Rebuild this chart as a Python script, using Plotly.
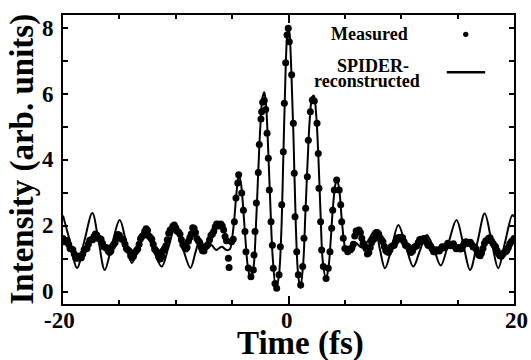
import plotly.graph_objects as go

# ---- Measured autocorrelation (dots) ----
meas_left_t = [-20.0, -19.75, -19.5, -19.25, -19.0, -18.75, -18.5, -18.25, -18.0, -17.75,
               -17.5, -17.25, -17.0, -16.75, -16.5, -16.25, -16.0, -15.75, -15.5, -15.25,
               -15.0, -14.75, -14.5, -14.25, -14.0, -13.75, -13.5, -13.25, -13.0, -12.75,
               -12.5, -12.25, -12.0, -11.75, -11.5, -11.25, -11.0, -10.75, -10.5, -10.25,
               -10.0, -9.75, -9.5, -9.25, -9.0, -8.75, -8.5, -8.25, -8.0, -7.75,
               -7.5, -7.25, -7.0, -6.75, -6.5, -6.25, -6.0, -5.75, -5.5, -5.33, -5.27]
meas_left_i = [1.62, 1.55, 1.45, 1.30, 1.15, 1.02, 1.03, 1.15, 1.30, 1.45,
               1.58, 1.68, 1.72, 1.62, 1.48, 1.35, 1.25, 1.24, 1.45, 1.65,
               1.72, 1.60, 1.45, 1.28, 1.10, 1.08, 1.25, 1.45, 1.68, 1.84,
               1.86, 1.65, 1.45, 1.25, 1.05, 1.08, 1.32, 1.58, 1.88, 2.00,
               1.95, 1.82, 1.58, 1.38, 1.35, 1.65, 1.95, 1.80, 1.55, 1.35,
               1.24, 1.40, 1.58, 1.76, 1.98, 2.05, 2.06, 1.88, 1.55, 1.02, 0.74]

# in-between samples of the left wing
meas_left2_t = [-19.875, -19.625, -19.375, -19.125, -18.875, -18.625, -18.375, -18.125,
                -17.875, -17.625, -17.375, -17.125, -16.875, -16.625, -16.375, -16.125,
                -15.875, -15.625, -15.375, -15.125, -14.875, -14.625, -14.375, -14.125,
                -13.875, -13.625, -13.375, -13.125, -12.875, -12.625, -12.375, -12.125,
                -11.875, -11.625, -11.375, -11.125, -10.875, -10.625, -10.375, -10.125,
                -9.875, -9.625, -9.375, -9.125, -8.875, -8.625, -8.375, -8.125,
                -7.875, -7.625, -7.375, -7.125, -6.875, -6.625, -6.375, -6.125,
                -5.875, -5.625]
meas_left2_i = [1.52, 1.56, 1.32, 1.28, 1.03, 1.08, 1.04, 1.28,
                1.32, 1.57, 1.58, 1.76, 1.62, 1.60, 1.37, 1.34,
                1.20, 1.38, 1.50, 1.74, 1.62, 1.57, 1.32, 1.24,
                1.04, 1.20, 1.30, 1.61, 1.72, 1.92, 1.70, 1.60,
                1.30, 1.20, 1.00, 1.25, 1.40, 1.78, 1.90, 2.03,
                1.84, 1.75, 1.44, 1.30, 1.54, 1.76, 1.93, 1.62,
                1.50, 1.25, 1.36, 1.45, 1.72, 1.84, 2.06, 2.00,
                2.00, 1.68]

meas_mid_t = [-5.05, -4.9, -4.8, -4.66, -4.5, -4.42, -4.15, -4.0, -3.86, -3.77,
              -3.56, -3.33, -3.12, -3.06, -2.97, -2.85, -2.68, -2.59, -2.44, -2.38,
              -2.29, -2.15, -2.02, -1.9, -1.79, -1.7, -1.55, -1.43, -1.35, -1.2,
              -1.05, -0.84, -0.72, -0.6, -0.46, -0.37, -0.25, -0.13, -0.02, 0.07,
              0.28, 0.43, 0.51, 0.58, 0.73, 0.87, 1.08, 1.26, 1.37, 1.52,
              1.67, 1.76, 1.94, 2.11, 2.29, 2.53, 2.64, 2.7, 2.85, 2.94,
              3.09, 3.33, 3.53, 3.68, 3.83, 3.92, 4.06, 4.27, 4.5, 4.63,
              4.72, 4.86, 5.0]
meas_mid_i = [1.52, 1.60, 2.13, 2.85, 3.30, 3.55, 3.00, 2.48, 1.83, 1.22,
              0.73, 0.46, 0.67, 1.12, 1.83, 2.70, 3.62, 4.47, 5.24, 5.46,
              5.75, 5.80, 5.53, 4.81, 4.05, 3.09, 2.13, 1.42, 0.72, 0.26,
              0.11, 0.52, 1.37, 2.64, 4.25, 5.72, 6.95, 7.79, 7.99, 7.58,
              6.58, 5.11, 3.60, 2.28, 1.22, 0.52, 0.21, 0.77, 1.63, 2.54,
              3.49, 4.60, 5.46, 5.82, 5.79, 5.11, 4.20, 3.14, 2.13, 1.27,
              0.77, 0.41, 0.72, 1.22, 1.93, 2.48, 3.09, 3.39, 3.09, 2.64,
              2.13, 1.63, 1.32]

meas_right_t = [5.25, 5.5, 5.75, 6.0, 6.25, 6.5, 6.75, 7.0, 7.25, 7.5,
                7.75, 8.0, 8.25, 8.5, 8.75, 9.0, 9.25, 9.5, 9.75, 10.0,
                10.25, 10.5, 10.75, 11.0, 11.25, 11.5, 11.75, 12.0, 12.25, 12.5,
                12.75, 13.0, 13.25, 13.5, 13.75, 14.0, 14.25, 14.5, 14.75, 15.0,
                15.25, 15.5, 15.75, 16.0, 16.25, 16.5, 16.75, 17.0, 17.25, 17.5,
                17.75, 18.0, 18.25, 18.5, 18.75, 19.0, 19.25, 19.5, 19.75, 20.0]
meas_right_i = [1.22, 1.28, 1.45, 1.85, 1.88, 1.63, 1.40, 1.15, 1.35, 1.58,
                1.74, 1.76, 1.58, 1.38, 1.22, 1.28, 1.40, 1.52, 1.65, 1.66,
                1.52, 1.40, 1.26, 1.24, 1.38, 1.50, 1.60, 1.62, 1.50, 1.40,
                1.30, 1.22, 1.25, 1.30, 1.36, 1.40, 1.45, 1.44, 1.38, 1.32,
                1.30, 1.42, 1.52, 1.50, 1.44, 1.36, 1.20, 1.10, 1.32, 1.55,
                1.63, 1.55, 1.42, 1.25, 1.10, 1.14, 1.22, 1.35, 1.52, 1.62]

# in-between samples of the right wing
meas_right2_t = [5.375, 5.625, 5.875, 6.125, 6.375, 6.625, 6.875, 7.125,
                 7.375, 7.625, 7.875, 8.125, 8.375, 8.625, 8.875, 9.125,
                 9.375, 9.625, 9.875, 10.125, 10.375, 10.625, 10.875, 11.125,
                 11.375, 11.625, 11.875, 12.125, 12.375, 12.625, 12.875, 13.125,
                 13.375, 13.625, 13.875, 14.125, 14.375, 14.625, 14.875, 15.125,
                 15.375, 15.625, 15.875, 16.125, 16.375, 16.625, 16.875, 17.125,
                 17.375, 17.625, 17.875, 18.125, 18.375, 18.625, 18.875, 19.125,
                 19.375, 19.625, 19.875]
meas_right2_i = [1.30, 1.33, 1.70, 1.82, 1.80, 1.48, 1.32, 1.20,
                 1.50, 1.62, 1.80, 1.64, 1.52, 1.26, 1.20, 1.38,
                 1.42, 1.62, 1.60, 1.64, 1.42, 1.36, 1.20, 1.35,
                 1.40, 1.58, 1.56, 1.60, 1.42, 1.38, 1.22, 1.28,
                 1.24, 1.37, 1.34, 1.48, 1.40, 1.46, 1.31, 1.35,
                 1.32, 1.50, 1.47, 1.51, 1.36, 1.31, 1.12, 1.18,
                 1.47, 1.56, 1.64, 1.48, 1.36, 1.16, 1.08, 1.20,
                 1.26, 1.46, 1.56]

# ---- SPIDER-reconstructed autocorrelation (solid line) ----
spider_t = [-20.0, -19.4, -18.75, -18.1, -17.4, -16.85, -16.3, -15.65, -14.97, -14.4,
            -13.9, -13.3, -12.7, -12.0, -11.25, -10.65, -10.06, -9.4, -8.7, -8.25,
            -7.85, -7.55, -7.25, -7.0, -6.8, -6.6, -6.4, -6.15, -5.9, -5.7,
            -5.5, -5.2, -5.0, -4.8, -4.6, -4.4, -4.2, -4.0, -3.8, -3.6,
            -3.35, -3.1, -2.9, -2.7, -2.5, -2.3, -2.15, -2.0, -1.8, -1.6,
            -1.4, -1.1, -0.85, -0.65, -0.45, -0.25, -0.1, 0.0, 0.1, 0.25,
            0.45, 0.65, 0.85, 1.05, 1.3, 1.5, 1.7, 1.9, 2.1, 2.25,
            2.45, 2.65, 2.85, 3.05, 3.33, 3.55, 3.75, 3.95, 4.15, 4.3,
            4.5, 4.7, 4.9, 5.1, 5.3, 5.9, 6.5, 7.05, 7.7, 8.1,
            8.56, 9.15, 9.74, 10.4, 11.07, 11.65, 12.26, 12.9, 13.5, 14.2,
            14.9, 15.5, 16.1, 16.75, 17.4, 18.0, 18.6, 19.2, 19.85, 20.0]
spider_i = [2.32, 1.55, 0.73, 1.55, 2.39, 1.55, 0.67, 1.45, 2.18, 1.50,
            0.88, 1.35, 1.80, 1.30, 0.77, 1.35, 1.95, 1.35, 0.73, 1.20,
            1.60, 1.42, 1.33, 1.40, 1.42, 1.33, 1.27, 1.33, 1.37, 1.32,
            1.27, 1.30, 1.62, 2.25, 3.05, 3.55, 3.25, 2.45, 1.50, 0.75,
            0.40, 0.75, 1.90, 3.50, 5.00, 5.90, 6.05, 5.70, 4.30, 2.55,
            1.05, 0.08, 0.50, 1.70, 4.20, 6.80, 7.85, 8.00, 7.80, 6.70,
            4.60, 2.00, 0.55, 0.12, 0.85, 2.40, 4.00, 5.30, 5.90, 5.95,
            5.40, 4.10, 2.30, 0.90, 0.40, 0.75, 1.60, 2.60, 3.25, 3.42,
            3.10, 2.30, 1.60, 1.25, 1.25, 1.50, 1.35, 1.55, 1.88, 1.30,
            0.72, 1.35, 2.03, 1.40, 0.77, 1.25, 1.73, 1.30, 0.80, 1.50,
            2.18, 1.45, 0.67, 1.50, 2.38, 1.55, 0.72, 1.50, 2.33, 2.28]

x_tick_vals = [-20, 0, 20]
x_tick_text = ["-20", "0", "20"]
y_tick_vals = [0, 2, 4, 6, 8]
y_tick_text = ["0", "2", "4", "6", "8"]

SERIF = "Liberation Serif"

meas_t = meas_left_t + meas_left2_t + meas_mid_t + meas_right_t + meas_right2_t
meas_i = meas_left_i + meas_left2_i + meas_mid_i + meas_right_i + meas_right2_i

fig = go.Figure()
fig.add_trace(go.Scatter(
    x=spider_t, y=spider_i, mode="lines",
    line=dict(color="black", width=2, shape="spline", smoothing=1.0),
    showlegend=False, hoverinfo="skip"))
fig.add_trace(go.Scatter(
    x=meas_t, y=meas_i, mode="markers",
    marker=dict(color="black", size=7),
    showlegend=False, hoverinfo="skip"))

axis_common = dict(
    showgrid=False, zeroline=False, showline=True, linecolor="black",
    linewidth=2, mirror="allticks", ticks="inside", tickcolor="black",
    tickwidth=1.5, showticklabels=False,
)

fig.update_xaxes(
    range=[-20, 20], tickmode="array", tickvals=x_tick_vals,
    ticklen=8,
    minor=dict(dtick=5, tick0=0, ticklen=4, ticks="inside",
               tickcolor="black", tickwidth=1.5),
    **axis_common)
fig.update_yaxes(
    range=[-0.364, 8.394], tickmode="array", tickvals=y_tick_vals,
    ticklen=5,
    minor=dict(dtick=1, tick0=0, ticklen=5, ticks="inside",
               tickcolor="black", tickwidth=1.5),
    **axis_common)

tick_font = dict(family=SERIF, size=23, color="black", weight="bold")
title_font = dict(family=SERIF, size=33, color="black", weight="bold")
legend_font = dict(family=SERIF, size=18, color="black", weight="bold")

annotations = []
# tick labels placed tight against the frame, at the axis values
x_label_shift = [-4, -2, 2]
for v, txt, sh in zip(x_tick_vals, x_tick_text, x_label_shift):
    annotations.append(dict(text=txt, x=v, xref="x", y=-0.057, yref="paper",
                            xanchor="center", yanchor="middle", xshift=sh,
                            showarrow=False, font=tick_font))
for v, txt in zip(y_tick_vals, y_tick_text):
    annotations.append(dict(text=txt, x=-0.0155, xref="paper", y=v, yref="y",
                            xanchor="right", yanchor="middle",
                            showarrow=False, font=tick_font))

annotations += [
    dict(text="Time (fs)", x=0.5255, y=-0.136, xref="paper", yref="paper",
         xanchor="center", yanchor="middle", showarrow=False, font=title_font),
    dict(text="Intensity (arb. units)", x=-0.0909, y=0.5, xref="paper", yref="paper",
         xanchor="center", yanchor="middle", textangle=-90, showarrow=False,
         font=title_font),
    dict(text="Measured", x=0.679, y=0.934, xref="paper", yref="paper",
         xanchor="center", yanchor="middle", showarrow=False, font=legend_font),
    dict(text="SPIDER-", x=0.687, y=0.824, xref="paper", yref="paper",
         xanchor="center", yanchor="middle", showarrow=False, font=legend_font),
    dict(text="reconstructed", x=0.673, y=0.771, xref="paper", yref="paper",
         xanchor="center", yanchor="middle", showarrow=False, font=legend_font),
]

shapes = [
    dict(type="circle", xref="paper", yref="paper", xsizemode="pixel",
         ysizemode="pixel", xanchor=0.893, yanchor=0.933,
         x0=-2.7, x1=2.7, y0=-2.7, y1=2.7,
         fillcolor="black", line=dict(color="black", width=0)),
    dict(type="line", xref="paper", yref="paper", x0=0.851, x1=0.936,
         y0=0.802, y1=0.802, line=dict(color="black", width=2.5)),
]

fig.update_layout(
    width=531, height=360,
    margin=dict(l=63, r=17, t=15, b=56),
    paper_bgcolor="white", plot_bgcolor="white",
    annotations=annotations, shapes=shapes,
)

fig.write_html("out.html")
